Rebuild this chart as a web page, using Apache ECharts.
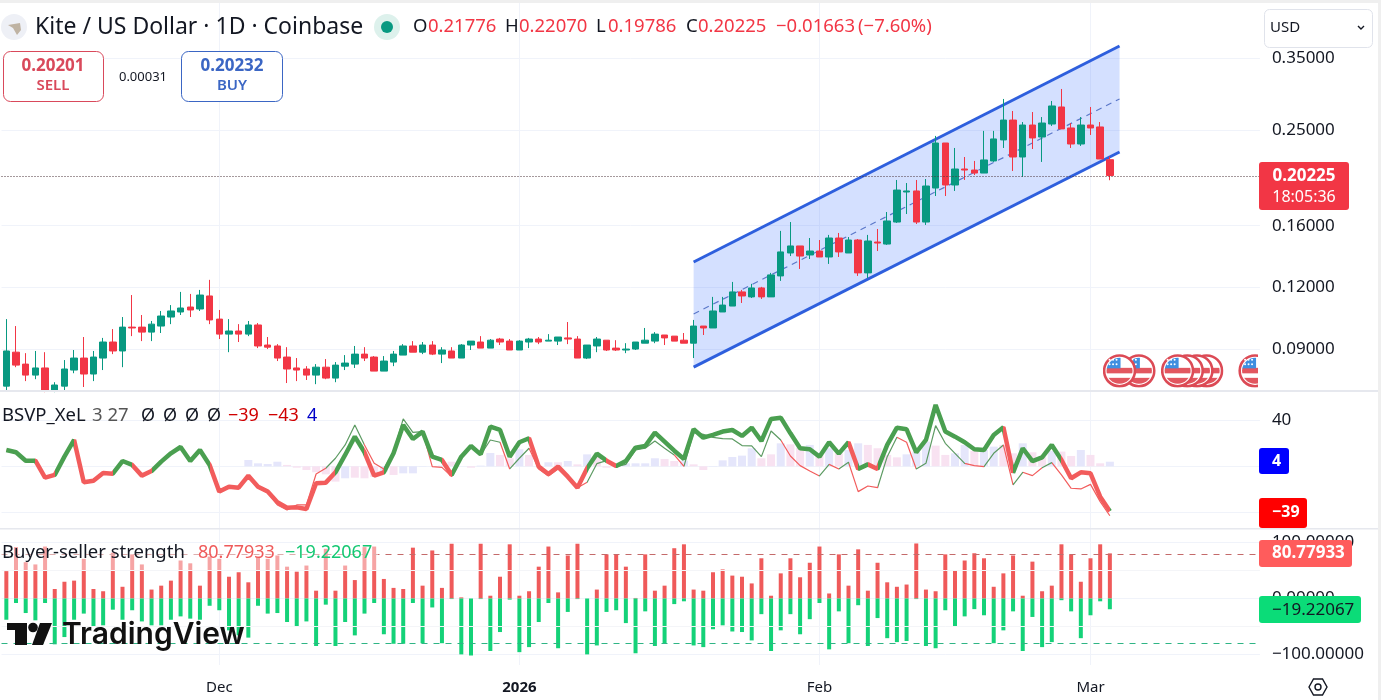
<!DOCTYPE html>
<html>
<head>
<meta charset="utf-8">
<style>html,body{margin:0;padding:0;background:#fff}#chart{width:1381px;height:700px}</style>
<script src="https://cdn.jsdelivr.net/npm/echarts@6/dist/echarts.min.js"></script>
</head>
<body>
<div id="chart"></div>
<script>
var opens = [.0757,.0887,.0839,.0797,.0824,.0743,.0757,.0816,.0863,.0801,.0863,.0930,.0892,.0997,.0997,.0974,.1002,.1045,.1070,.1095,
  .1085,.1153,.1035,.0965,.0979,.0965,.1007,.0917,.0913,.0867,.0824,.0820,.0797,.0827,.0786,.0831,.0839,.0879,.0867,.0812,
  .0847,.0875,.0913,.0887,.0917,.0879,.0892,.0863,.0917,.0930,.0904,.0943,.0934,.0896,.0930,.0943,.0934,.0934,.0948,.0943,
  .0863,.0913,.0938,.0904,.0896,.0900,.0925,.0934,.0961,.0956,.0938,.0925,.1002,.0993,.1070,.1100,.1175,.1148,.1197,.1148,
  .1266,.1409,.1456,.1396,.1422,.1383,.1511,.1409,.1497,.1284,.1483,.1469,.1628,.1873,.1882,.1628,.1908,.2354,.1935,.2085,
  .2075,.2046,.2165,.2388,.2620,.2205,.2560,.2421,.2572,.2785,.2525,.2343,.2560,.2537,.21776];
var highs = [.1035,.1002,.0883,.0892,.0887,.0771,.0855,.0896,.0952,.0892,.0948,.0988,.1045,.1158,.1055,.1026,.1075,.1105,.1175,.1164,
  .1186,.1243,.1080,.1035,.1011,.1026,.1016,.0952,.0921,.0908,.0863,.0831,.0839,.0859,.0847,.0875,.0913,.0908,.0871,.0871,
  .0892,.0921,.0934,.0930,.0934,.0908,.0908,.0921,.0934,.0956,.0943,.0948,.0943,.0938,.0948,.0952,.0965,.0952,.1021,.0956,
  .0917,.0952,.0938,.0938,.0925,.0930,.0993,.0974,.0961,.0956,.0970,.1031,.1002,.1148,.1148,.1231,.1186,.1220,.1203,.1284,
  .1562,.1628,.1456,.1511,.1497,.1533,.1547,.1518,.1504,.1533,.1576,.1706,.1981,.1953,.1981,.1990,.2433,.2354,.2300,.2205,
  .2165,.2491,.2491,.2891,.2733,.2596,.2720,.2657,.2864,.3029,.2584,.2657,.2785,.2596,.22070];
var lows = [.0743,.0827,.0775,.0782,.0736,.0736,.0743,.0804,.0754,.0775,.0816,.0879,.0827,.0956,.0934,.0934,.0970,.1011,.1055,.1045,
  .1075,.1011,.0943,.0887,.0930,.0956,.0904,.0900,.0851,.0768,.0775,.0779,.0764,.0782,.0771,.0816,.0824,.0851,.0812,.0812,
  .0831,.0875,.0887,.0879,.0875,.0843,.0863,.0863,.0896,.0904,.0904,.0917,.0896,.0896,.0904,.0921,.0934,.0917,.0921,.0863,
  .0859,.0887,.0892,.0892,.0883,.0896,.0925,.0925,.0917,.0934,.0925,.0863,.0961,.0993,.1070,.1100,.1116,.1142,.1137,.1148,
  .1237,.1389,.1308,.1370,.1383,.1339,.1383,.1409,.1266,.1254,.1422,.1463,.1621,.1690,.1613,.1606,.1838,.1838,.1882,.1981,
  .2027,.2046,.2155,.2300,.2066,.2009,.2289,.2155,.2549,.2514,.2300,.2322,.2444,.2185,.19786];
var closes = [.0892,.0835,.0797,.0824,.0743,.0761,.0820,.0863,.0801,.0867,.0930,.0892,.0997,.0993,.0974,.1011,.1050,.1075,.1090,.1080,
  .1158,.1031,.0965,.0979,.0965,.1007,.0913,.0908,.0863,.0820,.0816,.0797,.0827,.0786,.0835,.0843,.0879,.0863,.0812,.0851,
  .0879,.0913,.0887,.0917,.0879,.0896,.0863,.0917,.0934,.0904,.0938,.0930,.0896,.0934,.0943,.0930,.0938,.0952,.0943,.0863,
  .0917,.0943,.0896,.0896,.0900,.0930,.0938,.0965,.0948,.0934,.0925,.1002,.0993,.1075,.1105,.1175,.1153,.1197,.1148,.1272,
  .1416,.1456,.1389,.1422,.1383,.1511,.1416,.1497,.1284,.1490,.1476,.1636,.1890,.1882,.1628,.1926,.2354,.1935,.2085,.2075,
  .2046,.2175,.2399,.2620,.2205,.2560,.2410,.2584,.2798,.2514,.2343,.2560,.2525,.2185,.20225];

var channelStart = 71, channelEnd = 115;
var channelUpper = [.1351, .3702];
var channelMiddle = [.1060, .2891];
var channelLower = [.0827, .2257];
var lastPrice = .20225;
var priceTicks = [.35, .25, .16, .12, .09];

var flagIndexes = [129, 124, 123, 122, 121, 117, 115];
var flagPrice = .0813;

var bsvpThick = [14.2,12.2,4.9,4.9,-9.9,-7.5,8.4,22.9,-13.9,-12.5,-5.8,-6.4,4.6,1.2,-8.1,-4.1,4.1,11.3,16.8,4.6,
  14.2,1.2,-22,-17.7,-18.6,-8.1,-17.7,-22,-31.3,-36,-35.7,-37.1,-14.8,-14.2,-5.2,9.9,25.8,12.2,-8.1,-5.2,
  11.3,36,23.8,30.2,8.4,5.5,-7.5,8.4,17.7,10.4,34.5,31.6,8.4,20.9,24.4,-0.3,-6.7,-0.3,-9,-18.6,
  -1.7,11,4.9,0.3,4.6,16.2,17.7,29.3,21.5,13.6,6.4,32.2,24.9,27.3,30.2,31.6,26.4,33.6,22,41.2,
  42.3,28.7,15.7,14.8,8.4,20.9,11,20.9,-2.3,1.7,-2.3,18.6,33.6,32.2,12.2,22.9,53.4,30.2,25.8,20.9,
  14.8,14.2,27.3,33.9,-5.5,15.7,4.6,7.8,18.6,5.5,-10.4,-5.2,-6.1,-26.4,-39];
var bsvpThin = [14.2,12.2,4.9,4.9,-9.9,-7.5,8.4,22.9,-13.9,-12.5,-5.8,-6.4,4.6,1.2,-8.1,-4.1,4.1,11.3,16.8,4.6,
  14.2,1.2,-22,-17.7,-18.6,-10.4,-18.6,-22.9,-33.6,-38,-33.6,-33.6,-6.7,-1.7,7,18.6,36,18.6,2.6,-2.3,
  12.8,41.2,29.6,30.2,-0.3,-0.9,-9,7,17.1,9.9,22.9,20.9,-2.3,7,15.7,-2.3,-8.4,-2.3,-10.4,-18.6,
  -13.9,2.3,4.9,-0.3,1.7,14.2,15.7,22,15.7,9.9,0,29.3,27.8,25.2,24.1,23.8,18,17.7,8.4,30.7,
  22.9,9,0.6,-4.1,-8.4,1.7,-2.3,3.5,-22,-17.1,-18.6,8.4,25.2,20.9,-2.3,2.6,35.4,20,11.3,2.6,
  0.6,-0.3,11.3,18.6,-16.2,-5.2,-8.1,-1.2,3.2,-7.5,-19.1,-19.7,-15.7,-30.7,-43];
var bsvpHist = [0,0,0,0,0,0,0,0,0,0,0,0,0,0,0,0,0,0,0,0,
  0,0,0,0,0,5.5,2.6,2,4,1.2,-1.2,-3.2,-5.2,-7,-13.3,-10.4,-9.9,-10.4,-9.3,-4.6,
  -7.5,-6.1,-6.1,0.3,0,0.6,4,0,-1.2,0.6,11.6,9.9,7,14.8,9.9,0,3.5,3.5,4.6,1.7,
  10.4,8.1,-1.2,2,2.6,2.6,2.6,7,6.4,4.6,4.9,1.7,-3.2,0.3,5.2,8.1,9.3,15.7,7,10.4,
  20,19.1,16.2,18.6,9.9,15.7,11.3,14.2,20,18.6,15.7,9.9,7.8,10.4,12.8,21.5,18,9.9,11.3,18.6,
  13.3,14.2,17.1,18.6,11.3,20,12.2,8.4,13.3,12.8,9,14.2,9.9,2.6,4];
var histFalling = [29,30,31,32,33,34,36,37,38,40,46,48,51,52,54,57,59,61,62,63,68,69,71,72,78,79,81,82,84,86,89,90,91,92,96,97,100,103,104,106,107,109,110,112,113];
var thickRedRanges = [[3,5],[7,11],[13,15],[21,34],[37,39],[45,46],[54,60],[62,63],[87,88],[89,90],[103,104],[109,114]];
var thinRedRanges = [[0,33],[37,39],[43,46],[51,52],[54,60],[62,63],[69,70],[80,84],[85,86],[87,90],[92,94],[99,101],[103,104],[105,107],[108,114]];
var bsvpTicks = [40, 0, -40];

var buyers = [49,92,65,61,93,17,30,32,71,17,13,82,21,79,61,16,23,32,68,63,
  23,75,71,39,47,29,75,71,77,57,48,59,14,89,14,59,33,92,93,35,
  19,17,91,23,86,19,98,2,0,98,5,39,97,5,13,57,93,11,77,98,
  0,16,79,79,57,1,79,14,23,90,97,16,14,47,52,41,39,27,72,5,
  45,72,38,64,93,9,79,23,88,14,64,29,21,25,98.5,16,13,79,50,68,
  81,72,21,45,77,5,66,13,23,97,79,30,72,97,80.78];
var sellers = [-38,-8,-26,-39,-8,-82,-69,-38,-27,-50,-48,-20,-38,-21,-41,-48,-48,-38,-32,-36,
  -38,-13,-21,-57,-66,-70,-13,-27,-26,-42,-51,-41,-85,-11,-85,-42,-66,-27,-8,-64,
  -81,-81,-8,-80,-16,-80,-1,-100,-102,-1,-94,-60,-2,-96,-87,-42,-8,-89,-24,-1,
  -100,-84,-24,-21,-44,-98,-23,-85,-80,-10,-5,-84,-87,-55,-48,-59,-60,-75,-28,-94,
  -57,-28,-64,-37,-8,-91,-23,-80,-12,-85,-35,-71,-78,-76,-1,-85,-89,-21,-50,-32,
  -19,-30,-80,-57,-23,-94,-33,-87,-78,-3,-23,-71,-30,-5,-19.22];
var strengthTicks = [100, 0, -100];
var buyLevel = 80, sellLevel = -80;

// 130 daily slots, the last ones are empty future space
var categories = [];
for (var d = 0; d < 130; d++) {
  categories.push(new Date(Date.UTC(2025, 10, 9 + d)).toISOString().slice(0, 10));
}
var timeLabels = {22: "Dec", 53: "2026", 84: "Feb", 112: "Mar"};
var timeIndexes = Object.keys(timeLabels).map(Number);

var UP = "#089981", DOWN = "#F23645", GRID = "#F0F3FA", INK = "#131722";
var GREEN_LINE = "#4A9F50", RED_LINE = "#F25C5C";
var FONT = "'Noto Sans', sans-serif";

var candleRows = opens.map(function (o, i) {
  return [Math.log(o), Math.log(closes[i]), Math.log(lows[i]), Math.log(highs[i])];
});
function channelLine(values) {
  return [[channelStart, Math.log(values[0])], [channelEnd, Math.log(values[1])]];
}
function redPieces(ranges) {
  return ranges.map(function (r) { return {gt: r[0], lte: r[1], color: RED_LINE}; });
}
// empty series that only carries the date grid lines, below every mark
function dateLines(pane) {
  return {
    type: "line", xAxisIndex: pane, yAxisIndex: pane, z: 0, silent: true, symbol: "none", data: [],
    markLine: {
      symbol: "none", silent: true, animation: false, label: {show: false}, z: 0,
      data: timeIndexes.map(function (i) { return {xAxis: i, lineStyle: {color: GRID, width: 1, type: "solid"}}; })
    }
  };
}

var flagSvg = "<svg xmlns='http://www.w3.org/2000/svg' viewBox='0 0 34 34'>" +
  "<defs><clipPath id='c'><circle cx='17' cy='17' r='13'/></clipPath></defs>" +
  "<circle cx='17' cy='17' r='15.4' fill='#fff' stroke='#DC4A55' stroke-width='2.6'/>" +
  "<g clip-path='url(#c)'><rect x='0' y='0' width='34' height='34' fill='#fff'/>" +
  "<rect x='0' y='14' width='34' height='5.5' fill='#E2565F'/><rect x='0' y='24' width='34' height='10' fill='#E2565F'/>" +
  "<rect x='2' y='3' width='16' height='11.5' fill='#3F8FE0'/></g>" +
  "<g fill='#fff'><circle cx='7' cy='6' r='1'/><circle cx='10.5' cy='6' r='1'/><circle cx='14' cy='6' r='1'/>" +
  "<circle cx='7' cy='10.5' r='1'/><circle cx='10.5' cy='10.5' r='1'/><circle cx='14' cy='10.5' r='1'/></g></svg>";

function label(x, y, text, font, fill, align) {
  return {type: "text", z: 120, silent: true, style: {x: x, y: y, text: text, font: font, fill: fill, align: align || "left", verticalAlign: "middle"}};
}
function box(x, y, w, h, fill, stroke, r) {
  return {type: "rect", z: 110, silent: true, shape: {x: x, y: y, width: w, height: h, r: r || 3},
    style: {fill: fill, stroke: stroke || null, lineWidth: stroke ? 1 : 0}};
}
var font18 = "18px " + FONT, font185 = "18.5px " + FONT;

var overlays = [
  {type: "rect", z: 90, silent: true, shape: {x: 0, y: 0, width: 1381, height: 3}, style: {fill: "#EFEFEF"}},
  {type: "rect", z: 90, silent: true, shape: {x: 1378, y: 0, width: 3, height: 700}, style: {fill: "#EFEFEF"}},
  {type: "rect", z: 90, silent: true, shape: {x: 0, y: 390, width: 1378, height: 2}, style: {fill: "#E6E8EE"}},
  {type: "rect", z: 90, silent: true, shape: {x: 0, y: 528, width: 1378, height: 1.5}, style: {fill: "#E6E8EE"}},
  // the event row stops at the price scale
  {type: "rect", z: 90, silent: true, shape: {x: 1258, y: 352, width: 14, height: 38}, style: {fill: "#fff"}},
  // header
  {type: "circle", z: 110, silent: true, shape: {cx: 14, cy: 27, r: 13}, style: {fill: "#EEF0F6"}},
  {type: "polygon", z: 111, silent: true, shape: {points: [[8, 25], [20, 23], [21, 30], [17, 35], [13, 28]]}, style: {fill: "#BFB3A3"}},
  label(35, 27, "Kite / US Dollar · 1D · Coinbase", "23px " + FONT, INK),
  {type: "circle", z: 110, silent: true, shape: {cx: 387, cy: 27, r: 13}, style: {fill: "#DDF1EC"}},
  {type: "circle", z: 111, silent: true, shape: {cx: 387, cy: 27, r: 6}, style: {fill: UP}},
  label(413, 27, "O", font185, INK), label(428, 27, "0.21776", font185, DOWN),
  label(505, 27, "H", font185, INK), label(519, 27, "0.22070", font185, DOWN),
  label(596, 27, "L", font185, INK), label(608, 27, "0.19786", font185, DOWN),
  label(686, 27, "C", font185, INK), label(698, 27, "0.20225", font185, DOWN),
  label(776, 27, "−0.01663", font185, DOWN), label(858, 27, "(−7.60%)", font185, DOWN),
  box(3.5, 51.5, 100, 50, "#fff", "#D9495B", 7),
  label(53, 66, "0.20201", "bold 17px " + FONT, "#D9495B", "center"),
  label(53, 86, "SELL", "600 15px " + FONT, "#D9495B", "center"),
  label(143, 77, "0.00031", "13px " + FONT, INK, "center"),
  box(181.5, 51.5, 101, 50, "#fff", "#3B66C4", 7),
  label(232, 66, "0.20232", "bold 17px " + FONT, "#3B66C4", "center"),
  label(232, 86, "BUY", "600 15px " + FONT, "#3B66C4", "center"),
  box(1264.5, 9.5, 108, 38, "#fff", "#E0E3EB", 5),
  label(1270, 28, "USD", "15px " + FONT, INK),
  {type: "polyline", z: 111, silent: true, shape: {points: [[1358, 26], [1361, 29], [1364, 26]]}, style: {fill: null, stroke: INK, lineWidth: 1.4}},
  // last price tag
  box(1259, 162, 90, 48, DOWN),
  label(1304, 176, "0.20225", "bold 17px " + FONT, "#fff", "center"),
  label(1304, 197, "18:05:36", "16px " + FONT, "#fff", "center"),
  // BSVP legend and tags
  label(2, 416, "BSVP_XeL", font185, INK),
  label(92, 416, "3 27", font185, "#555"),
  label(141, 416, "Ø", font18, INK), label(163, 416, "Ø", font18, INK), label(185, 416, "Ø", font18, INK), label(207, 416, "Ø", font18, INK),
  label(228, 416, "−39", font18, "#D00000"), label(268, 416, "−43", font18, "#D00000"), label(307, 416, "4", font18, "#0000C8"),
  box(1259, 448, 30, 26, "#0000FF"), label(1272, 461, "4", "bold 16px " + FONT, "#fff"),
  box(1259, 498, 48, 30, "#FF0000"), label(1272, 512, "−39", "bold 16px " + FONT, "#fff"),
  // strength legend and tags
  {type: "rect", z: 100, silent: true, shape: {x: 0, y: 543, width: 378, height: 27}, style: {fill: "rgba(255,255,255,0.45)"}},
  label(2, 553, "Buyer-seller strength", font185, INK),
  label(198, 553, "80.77933", font18, "#EF5A5A"),
  label(285, 553, "−19.22067", font18, "#14C873"),
  box(1259, 540, 93, 27, "#FF5C5C"), label(1272, 553.5, "80.77933", "bold 17px " + FONT, "#fff"),
  box(1259, 596, 102, 27, "#0BDC78"), label(1272, 610, "−19.22067", "17px " + FONT, INK),
  // TradingView mark
  {type: "polygon", z: 110, silent: true, shape: {points: [[7, 623], [27, 623], [27, 645], [15, 645], [15, 630], [7, 630]]}, style: {fill: "#111"}},
  {type: "circle", z: 110, silent: true, shape: {cx: 33, cy: 627.5, r: 4.8}, style: {fill: "#111"}},
  {type: "polygon", z: 110, silent: true, shape: {points: [[40, 623], [52, 623], [43, 645], [32, 645]]}, style: {fill: "#111"}},
  {type: "text", z: 120, silent: true, style: {x: 62, y: 635, text: "TradingView", font: "600 30px Inter, sans-serif", fill: "#111", verticalAlign: "middle"}},
  // settings glyph
  {type: "polygon", z: 110, silent: true, shape: {points: [[1309, 687], [1313.5, 679], [1322.5, 679], [1327, 687], [1322.5, 695], [1313.5, 695]]}, style: {fill: "#fff", stroke: INK, lineWidth: 1.4}},
  {type: "circle", z: 111, silent: true, shape: {cx: 1318, cy: 687, r: 3}, style: {fill: "#fff", stroke: INK, lineWidth: 1.4}}
];

function xAxisFor(gridIndex, withLabels) {
  return {
    type: "category", gridIndex: gridIndex, data: categories, boundaryGap: true,
    axisLine: {show: false}, axisTick: {show: false}, splitLine: {show: false},
    axisLabel: withLabels ? {
      show: true, margin: 15, fontSize: 15, color: INK, fontFamily: "'Noto Sans', sans-serif", hideOverlap: false,
      interval: function (i) { return timeLabels[i] !== undefined; },
      formatter: function (v, i) { return timeLabels[i] === "2026" ? "{year|2026}" : timeLabels[i]; },
      rich: {year: {fontWeight: "bold", fontSize: 15, color: INK, fontFamily: "'Noto Sans', sans-serif"}}
    } : {show: false}
  };
}
function yAxisFor(gridIndex, min, max, ticks, formatter) {
  return {
    type: "value", gridIndex: gridIndex, position: "right", min: min, max: max, scale: true,
    axisLine: {show: false},
    axisTick: {show: false, customValues: ticks},
    axisLabel: {customValues: ticks, margin: 12, fontSize: 17, padding: [3, 0, 0, 0], color: INK, fontFamily: "'Noto Sans', sans-serif", formatter: formatter},
    splitLine: {show: true, lineStyle: {color: GRID, width: 1}}
  };
}

var option = {
  animation: false,
  backgroundColor: "#fff",
  grid: [
    {left: 1.5, top: 0, width: 1258.4, height: 390},
    {left: 1.5, top: 391, width: 1258.4, height: 137},
    {left: 1.5, top: 529, width: 1258.4, height: 136}
  ],
  xAxis: [xAxisFor(0, false), xAxisFor(1, false), xAxisFor(2, true)],
  yAxis: [
    // price pane is logarithmic, so the axis runs on ln(price)
    yAxisFor(0, -2.599, -0.7792, priceTicks.map(Math.log), function (v) { return Math.exp(v).toFixed(5); }),
    yAxisFor(1, -53.65, 65.5, bsvpTicks, function (v) { return v === 0 ? "0" : String(v).replace("-", "−"); }),
    yAxisFor(2, -119, 124.4, strengthTicks, function (v) { return v.toFixed(5).replace("-", "−"); })
  ],
  visualMap: [
    {show: false, seriesIndex: 7, dimension: 0, pieces: redPieces(thickRedRanges), outOfRange: {color: GREEN_LINE}},
    {show: false, seriesIndex: 6, dimension: 0, pieces: redPieces(thinRedRanges), outOfRange: {color: "#5C9A62"}}
  ],
  series: [
    {
      type: "custom", name: "channel", xAxisIndex: 0, yAxisIndex: 0, z: 1, silent: true, clip: false,
      data: [[channelStart, Math.log(channelLower[0])]],
      renderItem: function (params, api) {
        return {
          type: "polygon",
          shape: {points: [
            api.coord([channelStart, Math.log(channelUpper[0])]),
            api.coord([channelEnd, Math.log(channelUpper[1])]),
            api.coord([channelEnd, Math.log(channelLower[1])]),
            api.coord([channelStart, Math.log(channelLower[0])])
          ]},
          style: {fill: "rgba(41,98,255,0.2)"}
        };
      }
    },
    {type: "line", name: "upper", xAxisIndex: 0, yAxisIndex: 0, z: 3, symbol: "none", silent: true, data: channelLine(channelUpper), lineStyle: {color: "#2E5FDD", width: 3}},
    {type: "line", name: "lower", xAxisIndex: 0, yAxisIndex: 0, z: 3, symbol: "none", silent: true, data: channelLine(channelLower), lineStyle: {color: "#2E5FDD", width: 3}},
    {type: "line", name: "middle", xAxisIndex: 0, yAxisIndex: 0, z: 2, symbol: "none", silent: true, data: channelLine(channelMiddle), lineStyle: {color: "#5B78C9", width: 1.2, type: [6, 5]}},
    {
      type: "candlestick", name: "KITEUSD", xAxisIndex: 0, yAxisIndex: 0, z: 4, barWidth: 7, data: candleRows,
      itemStyle: {color: UP, color0: DOWN, borderColor: UP, borderColor0: DOWN, borderWidth: 1},
      markLine: {
        symbol: "none", silent: true, animation: false, label: {show: false},
        data: [{yAxis: Math.log(lastPrice), lineStyle: {color: "#4A3338", width: 1, type: [1, 2]}}]
      }
    },
    {
      type: "scatter", name: "events", xAxisIndex: 0, yAxisIndex: 0, z: 5, silent: true, symbolSize: 34,
      itemStyle: {opacity: 1},
      symbol: "image://data:image/svg+xml;charset=utf-8," + encodeURIComponent(flagSvg),
      data: flagIndexes.map(function (i) { return [i, Math.log(flagPrice)]; })
    },
    {type: "line", name: "BSVP thin", xAxisIndex: 1, yAxisIndex: 1, z: 3, symbol: "none", silent: true, data: bsvpThin, lineStyle: {width: 1.2}},
    {type: "line", name: "BSVP thick", xAxisIndex: 1, yAxisIndex: 1, z: 4, symbol: "none", silent: true, data: bsvpThick, lineStyle: {width: 4.5}},
    {
      type: "bar", name: "BSVP hist", xAxisIndex: 1, yAxisIndex: 1, z: 2, silent: true, barWidth: 8,
      data: bsvpHist.map(function (v, i) {
        return {value: v, itemStyle: {color: histFalling.indexOf(i) >= 0 ? "#F8E2F1" : "#E5E6FB"}};
      })
    },
    {
      type: "bar", name: "Buyers", xAxisIndex: 2, yAxisIndex: 2, z: 3, barWidth: 4, barGap: "-100%", silent: true,
      data: buyers, itemStyle: {color: "#EF5A5A"},
      markLine: {
        symbol: "none", silent: true, animation: false, label: {show: false},
        data: [{yAxis: buyLevel, lineStyle: {color: "#C46A6A", width: 1, type: [6, 6]}}]
      }
    },
    {
      type: "bar", name: "Sellers", xAxisIndex: 2, yAxisIndex: 2, z: 3, barWidth: 4, barGap: "-100%", silent: true,
      data: sellers, itemStyle: {color: "#14D278"},
      markLine: {
        symbol: "none", silent: true, animation: false, label: {show: false},
        data: [
          {yAxis: sellLevel, lineStyle: {color: "#2FB585", width: 1, type: [6, 6]}},
          {yAxis: 50, lineStyle: {color: "#F4F5F8", width: 1, type: "solid"}},
          {yAxis: -50, lineStyle: {color: "#F4F5F8", width: 1, type: "solid"}}
        ]
      }
    },
    dateLines(0), dateLines(1), dateLines(2)
  ],
  graphic: {elements: overlays}
};

var chart = echarts.init(document.getElementById("chart"));
chart.setOption(option);
</script>
</body>
</html>
